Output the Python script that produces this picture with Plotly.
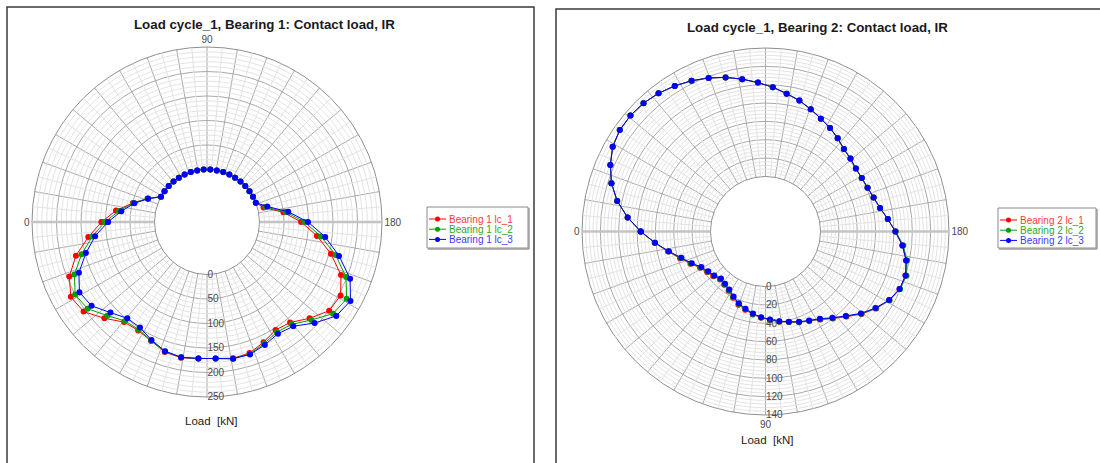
import plotly.graph_objects as go

W, H = 1100, 463

# ---------------- data ----------------
# Bearing 1: 50 rolling elements, angle step 7.2 deg
b1_count = 50
b1_lc1 = [108, 80, 49, 23, 0, 0, 0, 0, 0, 0, 0, 0, 0, 0, 0, 0, 0, 0, 0, 0, 0, 0, 0,
          12, 50, 85, 119, 154, 187, 204, 201, 180, 159, 154, 164, 174, 176, 172, 172,
          175, 172, 161, 155, 158, 180, 204, 210, 195, 169, 137]
b1_lc2 = [101, 74, 48, 23, 0, 0, 0, 0, 0, 0, 0, 0, 0, 0, 0, 0, 0, 0, 0, 0, 0, 0, 0,
          16, 55, 92, 127, 164, 198, 218, 211, 185, 164, 159, 167, 176, 177, 172, 172,
          174, 171, 160, 153, 155, 172, 194, 200, 184, 157, 129]
b1_lc3 = [95, 69, 46, 22, 0, 0, 0, 0, 0, 0, 0, 0, 0, 0, 0, 0, 0, 0, 0, 0, 0, 0, 0,
          20, 60, 99, 136, 171, 207, 227, 219, 194, 169, 163, 170, 177, 177, 172, 172,
          174, 170, 159, 148, 148, 163, 184, 190, 174, 148, 123]

# Bearing 2: 62 rolling elements
b2_count = 62
b2_lc1 = [76, 61.5, 48.5, 37.5, 29, 21.5, 17.5, 15, 12, 13.5, 16, 20.5, 25, 28, 31.5, 34,
          36.5, 39.5, 42, 45.5, 48.5, 53, 60, 68, 78, 87, 94.5, 99, 100, 96.5, 90, 81.5,
          74, 67.5, 63.5, 61, 60, 60, 62, 64, 68.5, 73, 77, 82, 87.5, 92, 97.5, 102.5,
          108, 113.5, 118.5, 123, 127, 130.5, 133, 134, 133.5, 130.5, 124, 116, 105, 91]
b2_lc2 = [76, 61.2, 48, 36.8, 28.3, 20.8, 16.8, 14.2, 11.2, 12.8, 15.2, 19.8, 24.2, 27.5,
          31, 33.8, 36.2, 39.2, 41.8, 45.2, 48.2, 52.5, 59.5, 67.5, 77.5, 86.5, 94.5, 99.5,
          101, 97.5, 91, 82, 74, 67.5, 63.5, 61, 60, 60, 62, 64, 68.5, 73, 77, 82, 87.5,
          92, 97.5, 102.5, 108, 113.5, 118.5, 123, 127, 130.5, 133, 134, 133.5, 130.5,
          124, 116, 105, 91]
b2_lc3 = [76, 61, 47.5, 36, 27.5, 20, 16, 13.5, 10.5, 12, 14.5, 19, 23.5, 27, 30.5, 33.5,
          36, 39, 41.5, 45, 48, 52, 59, 67, 77, 86, 94, 99, 100, 96.5, 90, 81.5, 74, 67.5,
          63.5, 61, 60, 60, 62, 64, 68.5, 73, 77, 82, 87.5, 92, 97.5, 102.5, 108, 113.5,
          118.5, 123, 127, 130.5, 133, 134, 133.5, 130.5, 124, 116, 105, 91]

b1_names = ["Bearing 1 lc_1", "Bearing 1 lc_2", "Bearing 1 lc_3"]
b2_names = ["Bearing 2 lc_1", "Bearing 2 lc_2", "Bearing 2 lc_3"]
titles = ["Load cycle_1, Bearing 1: Contact load, IR", "Load cycle_1, Bearing 2: Contact load, IR"]
b1_rticks = [0, 50, 100, 150, 200, 250]
b2_rticks = [0, 20, 40, 60, 80, 100, 120, 140]
ang_labels = {0: "0", 90: "90", 180: "180"}

colors = ["#ff0000", "#00a000", "#0000ff"]
text_colors = ["#ff3b3b", "#2aa82a", "#3b3bff"]

b1_theta = [360.0 * k / b1_count for k in range(b1_count)]
b2_theta = [360.0 * k / b2_count for k in range(b2_count)]

fig = go.Figure()

MINOR = "#e3e3e3"
MAJOR = "#a9a9a9"
FONT = "Liberation Sans, Arial, sans-serif"


def add_minor(subplot, rmax, rstep, major_step):
    rr, tt = [], []
    v = rstep
    while v < rmax - 1e-9:
        if abs(v / major_step - round(v / major_step)) > 1e-6:
            for a in range(0, 361, 2):
                rr.append(v)
                tt.append(a)
            rr.append(None)
            tt.append(None)
        v += rstep
    fig.add_trace(go.Scatterpolar(r=rr, theta=tt, mode="lines", subplot=subplot,
                                  line=dict(color=MINOR, width=1), hoverinfo="skip",
                                  showlegend=False, connectgaps=False))
    rr, tt = [], []
    for a in range(5, 360, 10):
        rr += [0, rmax, None]
        tt += [a, a, None]
    fig.add_trace(go.Scatterpolar(r=rr, theta=tt, mode="lines", subplot=subplot,
                                  line=dict(color=MINOR, width=1), hoverinfo="skip",
                                  showlegend=False, connectgaps=False))
    # emphasised 0-180 axis
    fig.add_trace(go.Scatterpolar(r=[0, rmax, None, 0, rmax], theta=[0, 0, None, 180, 180],
                                  mode="lines", subplot=subplot,
                                  line=dict(color="#c4c4c4", width=2.5), hoverinfo="skip",
                                  showlegend=False, connectgaps=False))


add_minor("polar", 250, 10, 50)
add_minor("polar2", 140, 4, 20)

for vals, name, c in zip([b1_lc1, b1_lc2, b1_lc3], b1_names, colors):
    fig.add_trace(go.Scatterpolar(r=vals + vals[:1], theta=b1_theta + b1_theta[:1],
                                  mode="lines+markers", name=name, subplot="polar",
                                  line=dict(color=c, width=1), marker=dict(color=c, size=6),
                                  showlegend=False))
for vals, name, c in zip([b2_lc1, b2_lc2, b2_lc3], b2_names, colors):
    fig.add_trace(go.Scatterpolar(r=vals + vals[:1], theta=b2_theta + b2_theta[:1],
                                  mode="lines+markers", name=name, subplot="polar2",
                                  line=dict(color=c, width=1), marker=dict(color=c, size=6),
                                  showlegend=False))


def px(x):
    return x / W


def py(y):
    return 1 - y / H


angvals = list(range(0, 360, 10))
angtext = [ang_labels.get(a, "") for a in angvals]
tickfont = dict(family=FONT, size=10, color="#4a4a4a")


def polar_layout(cx, cy, R, rmax, rticks, direction):
    return dict(
        domain=dict(x=[px(cx - R), px(cx + R)], y=[py(cy + R), py(cy - R)]),
        hole=0.3,
        bgcolor="white",
        angularaxis=dict(rotation=180, direction=direction, tickmode="array",
                         tickvals=angvals, ticktext=angtext, showline=True,
                         linecolor="#8f8f8f", linewidth=1, gridcolor=MAJOR, gridwidth=1,
                         ticks="", tickfont=tickfont, layer="below traces"),
        radialaxis=dict(range=[0, rmax], tickmode="array", tickvals=rticks, angle=-90,
                        side="counterclockwise", showline=False, ticks="", gridcolor=MAJOR,
                        gridwidth=1, tickfont=tickfont, tickangle=-90, layer="above traces"),
    )


shapes = []
annotations = []
# panel frames
shapes.append(dict(type="rect", xref="paper", yref="paper", x0=px(7), x1=px(534),
                   y0=py(470), y1=py(7), line=dict(color="#3a3a3a", width=1.5)))
shapes.append(dict(type="rect", xref="paper", yref="paper", x0=px(556), x1=px(1110),
                   y0=py(470), y1=py(9), line=dict(color="#3a3a3a", width=1.5)))


def legend(x0, x1, y0, y1, names):
    shapes.append(dict(type="rect", xref="paper", yref="paper", x0=px(x0), x1=px(x1),
                       y0=py(y1), y1=py(y0), line=dict(color="#8a8a8a", width=1),
                       fillcolor="white"))
    shapes.append(dict(type="line", xref="paper", yref="paper", x0=px(x0 + 1), x1=px(x1 + 1),
                       y0=py(y1 + 1), y1=py(y1 + 1), line=dict(color="#9a9a9a", width=1.5)))
    shapes.append(dict(type="line", xref="paper", yref="paper", x0=px(x1 + 1), x1=px(x1 + 1),
                       y0=py(y0 + 1), y1=py(y1 + 1), line=dict(color="#9a9a9a", width=1.5)))
    for i, (n, c, tc) in enumerate(zip(names, colors, text_colors)):
        yy = y0 + 12 + 10.2 * i
        shapes.append(dict(type="line", xref="paper", yref="paper", x0=px(x0 + 2),
                           x1=px(x0 + 19), y0=py(yy), y1=py(yy), line=dict(color=c, width=1)))
        shapes.append(dict(type="circle", xref="paper", yref="paper", x0=px(x0 + 8),
                           x1=px(x0 + 13), y0=py(yy + 2.5), y1=py(yy - 2.5),
                           fillcolor=c, line=dict(color=c, width=0)))
        annotations.append(dict(text=n, x=px(x0 + 20), y=py(yy), xref="paper", yref="paper",
                                xanchor="left", yanchor="middle", showarrow=False,
                                font=dict(family=FONT, size=10, color=tc)))


legend(427, 528, 207, 248, b1_names)
legend(998, 1096, 208, 248, b2_names)

for t, (x, y) in zip(titles, [(264, 25), (817, 27)]):
    annotations.append(dict(text="<b>" + t + "</b>", x=px(x), y=py(y), xref="paper",
                            yref="paper", showarrow=False, xanchor="center", yanchor="middle",
                            font=dict(family=FONT, size=13.3, color="#1a1a1a")))
for (x, y) in [(211, 421), (767, 440)]:
    annotations.append(dict(text="Load&nbsp; [kN]", x=px(x), y=py(y), xref="paper",
                            yref="paper", showarrow=False, xanchor="center", yanchor="middle",
                            font=dict(family=FONT, size=11.5, color="#222222")))

fig.update_layout(
    width=W, height=H,
    margin=dict(l=0, r=0, t=0, b=0),
    paper_bgcolor="white",
    plot_bgcolor="white",
    showlegend=False,
    polar=polar_layout(207, 222, 175, 250, b1_rticks, "clockwise"),
    polar2=polar_layout(765.5, 231.5, 183.5, 140, b2_rticks, "counterclockwise"),
    shapes=shapes,
    annotations=annotations,
)

fig.write_html("out.html", config={"displayModeBar": False},
               post_script="document.body.style.margin='0';document.body.style.overflow='hidden';")
